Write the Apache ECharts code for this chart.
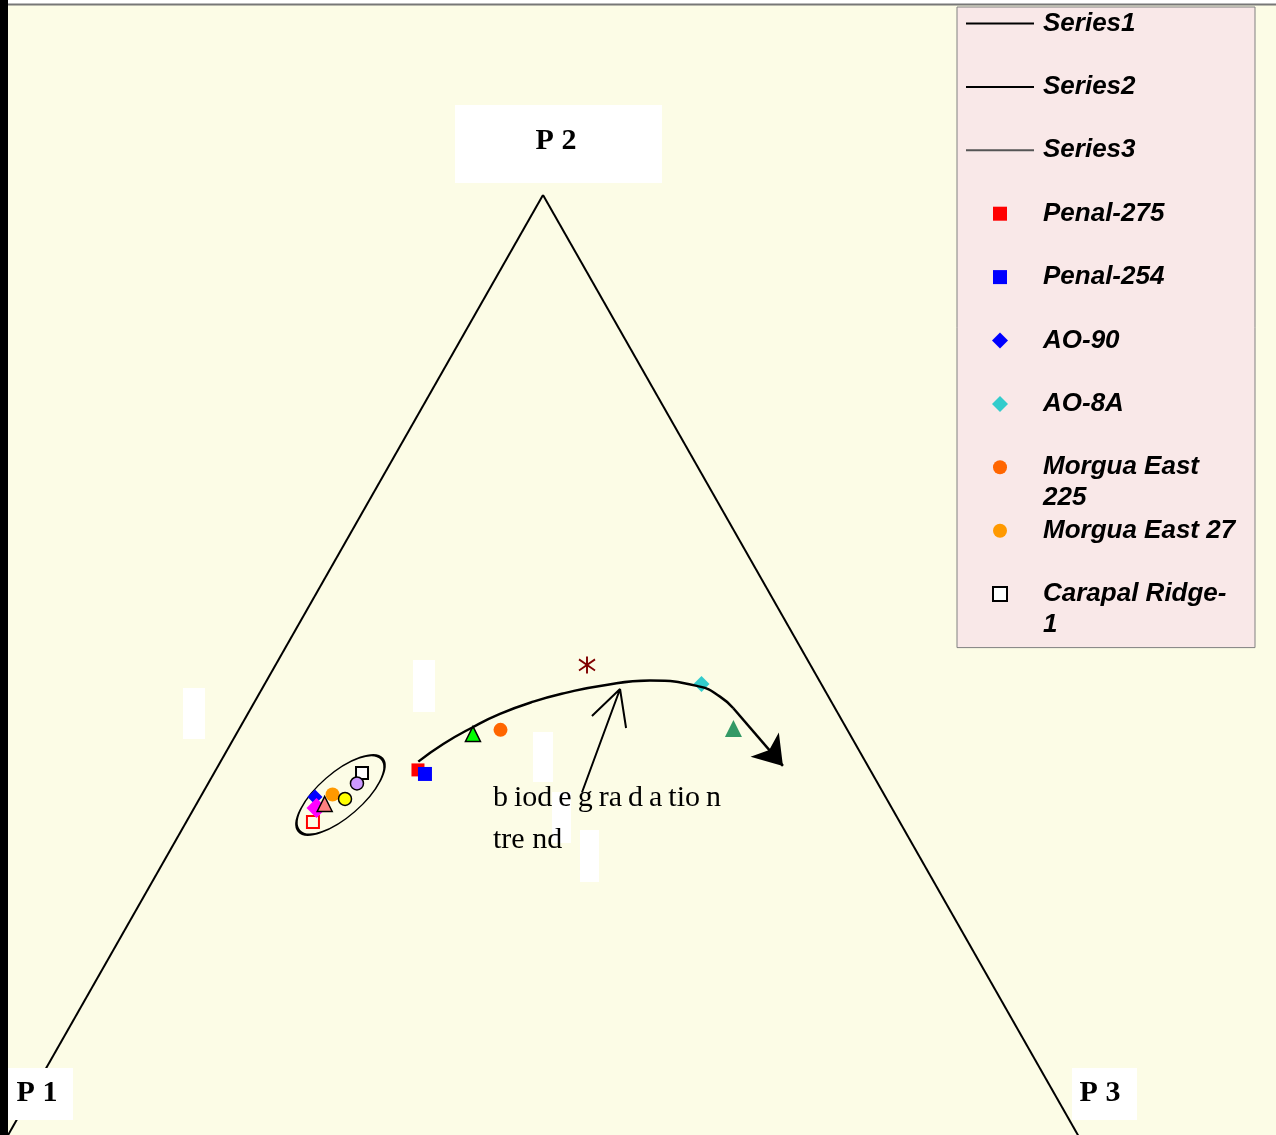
<!DOCTYPE html>
<html>
<head>
<meta charset="utf-8">
<script src="https://cdn.jsdelivr.net/npm/echarts@6/dist/echarts.min.js"></script>
<style>
  html, body { margin: 0; padding: 0; }
  #main { width: 1276px; height: 1135px; }
</style>
</head>
<body>
<div id="main"></div>
<script>
// 三角图的数据 (x: 底边百分比, y: 高度)
var side1 = [[0, 0], [50, 86.6]];
var side2 = [[50, 86.6], [100, 0]];
var side3 = [[0, 0], [100, 0]];

var penal275 = [[38.38, 33.94]];
var penal254 = [[39.03, 33.57]];
var ao90 = [[28.81, 31.46]];
var ao8a = [[64.73, 41.82]];
var morguaEast225 = [[46.05, 37.61]];
var morguaEast27 = [[30.44, 31.69]];
var carapalRidge1 = [[33.18, 33.66]];

// 图例里没有显示的样品
var openRedSquare = [[28.62, 29.17]];
var magentaDiamond = [[28.95, 30.46]];
var pinkTriangle = [[29.71, 30.82]];
var yellowCircle = [[31.60, 31.28]];
var lilacCircle = [[32.71, 32.70]];
var greenTriangle = [[43.49, 37.24]];
var redStar = [[54.09, 43.56]];
var seaGreenTriangle = [[67.70, 37.74]];

// 包围圈和趋势线
var clusterCenter = [[31.18, 31.65]];
var trendCurve = [[38.41, 34.70], [40.73, 36.32], [43.47, 37.85], [46.00, 39.07], [49.10, 40.19],
                  [52.20, 41.02], [55.30, 41.63], [59.94, 42.12], [64.59, 41.57],
                  [66.45, 40.65], [67.69, 39.59]];
var trendArrow = [[67.69, 39.59], [72.30, 34.31]];
var bioArrow = [[53.62, 31.87], [57.16, 41.35], [54.55, 38.88], '-', [57.16, 41.35], [57.72, 37.78]];

var legendNames = ['Series1', 'Series2', 'Series3', 'Penal-275', 'Penal-254', 'AO-90', 'AO-8A',
                   'Morgua East 225', 'Morgua East 27', 'Carapal Ridge-1'];

var starPath = 'path://M9,0h2v20h-2z M1.2,4.4 L2.2,2.6 L18.8,15.6 L17.8,17.4z M17.8,2.6 L18.8,4.4 L2.2,17.4 L1.2,15.6z';
// 图例图标: 在 68x16 的框中间画小方块/菱形/圆
var legendSquare = 'path://M0,0 M68,16 M27,1 h14 v14 h-14 z';
var legendDiamond = 'path://M0,0 M68,16 M34,0 L42,8 L34,16 L26,8 z';
var legendCircle = 'path://M0,0 M68,16 M27,8 a7,7 0 1,0 14,0 a7,7 0 1,0 -14,0 z';

var myChart = echarts.init(document.getElementById('main'));

function side(name, data, width, color) {
    return {
        name: name, type: 'line', data: data, symbol: 'none', silent: true,
        lineStyle: { color: color, width: width }, itemStyle: { color: color }
    };
}

function dot(name, data, symbol, size, color, border) {
    var style = { color: color, opacity: 1 };
    if (border) {
        style.borderColor = border;
        style.borderWidth = 1.5;
    }
    return {
        name: name, type: 'scatter', data: data, symbol: symbol, symbolSize: size,
        silent: true, itemStyle: style
    };
}

var labelFont = { fontFamily: 'Liberation Serif', fontWeight: 'bold', fontSize: 30, fill: '#000',
                  textAlign: 'center', textVerticalAlign: 'middle' };
var legendFont = { fontFamily: 'Liberation Sans', fontWeight: 'bold', fontStyle: 'italic', fontSize: 26, fill: '#000',
                   textVerticalAlign: 'middle' };

var legendIcons = {
    'Penal-275': legendSquare, 'Penal-254': legendSquare, 'Carapal Ridge-1': legendSquare,
    'AO-90': legendDiamond, 'AO-8A': legendDiamond,
    'Morgua East 225': legendCircle, 'Morgua East 27': legendCircle
};
var legendData = legendNames.map(function (n, i) {
    if (i < 3) return { name: n, itemStyle: { opacity: 0 } };  // 线条图例不要圆点
    return { name: n, icon: legendIcons[n] };
});

var option = {
    backgroundColor: '#fcfce6',
    animation: false,
    grid: { left: 5, right: 195, top: 195, bottom: 0 },
    xAxis: { type: 'value', min: 0, max: 100, show: false },
    yAxis: { type: 'value', min: 0.5, max: 86.6, show: false },
    legend: {
        data: legendData,
        orient: 'vertical',
        left: 957,
        top: 7,
        padding: [2.5, 8, 39.5, 8],
        itemWidth: 68,
        itemHeight: 16,
        itemGap: 35.4,
        selectedMode: false,
        backgroundColor: '#f9e8e8',
        borderColor: '#808080',
        borderWidth: 1,
        formatter: function (name) {
            if (name === 'Morgua East 225') return 'Morgua East';
            if (name === 'Carapal Ridge-1') return 'Carapal Ridge-';
            return name;
        },
        textStyle: {
            fontFamily: 'Liberation Sans', fontWeight: 'bold', fontStyle: 'italic',
            fontSize: 26, color: '#000', width: 204, height: 28, lineHeight: 31, padding: [0, 0, 0, 4]
        }
    },
    graphic: [
        { type: 'rect', shape: { x: 0, y: 0, width: 1276, height: 4 }, style: { fill: '#fff' }, z: 100 },
        { type: 'line', shape: { x1: 8, y1: 4.5, x2: 1276, y2: 4.5 }, style: { stroke: '#777', lineWidth: 2 }, z: 100 },
        { type: 'rect', shape: { x: 0, y: 0, width: 8, height: 1135 }, style: { fill: '#000' }, z: 100 },
        // 图例第二行
        { type: 'text', x: 1043, y: 498, style: Object.assign({ text: '225' }, legendFont), z: 100 },
        { type: 'text', x: 1043, y: 625, style: Object.assign({ text: '1' }, legendFont), z: 100 },
        // 白色小块
        { type: 'rect', shape: { x: 183, y: 688, width: 22, height: 51 }, style: { fill: '#fff' }, z: 1 },
        { type: 'rect', shape: { x: 413, y: 660, width: 22, height: 52 }, style: { fill: '#fff' }, z: 1 },
        { type: 'rect', shape: { x: 533, y: 732, width: 20, height: 50 }, style: { fill: '#fff' }, z: 1 },
        { type: 'rect', shape: { x: 552, y: 792, width: 19, height: 51 }, style: { fill: '#fff' }, z: 1 },
        { type: 'rect', shape: { x: 580, y: 830, width: 19, height: 52 }, style: { fill: '#fff' }, z: 1 },
        // 顶点标签
        { type: 'rect', shape: { x: 455, y: 105, width: 207, height: 78 }, style: { fill: '#fff' }, z: 50 },
        { type: 'text', x: 556, y: 141, style: Object.assign({ text: 'P 2' }, labelFont), z: 51 },
        { type: 'rect', shape: { x: 7, y: 1068, width: 66, height: 52 }, style: { fill: '#fff' }, z: 50 },
        { type: 'text', x: 37, y: 1093, style: Object.assign({ text: 'P 1' }, labelFont), z: 51 },
        { type: 'rect', shape: { x: 1072, y: 1068, width: 65, height: 52 }, style: { fill: '#fff' }, z: 50 },
        { type: 'text', x: 1100, y: 1093, style: Object.assign({ text: 'P 3' }, labelFont), z: 51 },
        // 趋势说明
        { type: 'text', x: 493, y: 798, z: 51,
          style: { text: 'b\u2009iod\u2009e\u2009g\u2009ra\u2009d\u2009a\u2009tio\u2009n', fontFamily: 'Liberation Serif', fontSize: 30, fill: '#000', textVerticalAlign: 'middle' } },
        { type: 'text', x: 493, y: 840, z: 51,
          style: { text: 'tre nd', fontFamily: 'Liberation Serif', fontSize: 30, fill: '#000', textVerticalAlign: 'middle' } }
    ],
    series: [
        side('Series1', side1, 2, '#000'),
        side('Series2', side2, 2, '#000'),
        side('Series3', side3, 1, '#555'),
        {
            name: 'cluster', type: 'scatter', data: clusterCenter, symbol: 'circle',
            symbolSize: [110, 44], symbolRotate: 41, silent: true,
            itemStyle: { color: 'rgba(0,0,0,0)', borderColor: '#000', borderWidth: 2, opacity: 1 }
        },
        {
            name: 'trend', type: 'line', data: trendCurve, smooth: 0.5,
            symbol: 'none', silent: true,
            lineStyle: { color: '#000', width: 2.5 },
            markLine: {
                silent: true, animation: false,
                symbol: ['none', 'arrow'], symbolSize: 28,
                label: { show: false },
                lineStyle: { color: '#000', width: 2.5, type: 'solid' },
                data: [[{ coord: trendArrow[0] }, { coord: trendArrow[1] }]]
            }
        },
        {
            name: 'bio', type: 'line', data: bioArrow, symbol: 'none', silent: true,
            lineStyle: { color: '#000', width: 2 }
        },
        {
            name: 'Sample A', type: 'scatter', data: openRedSquare, symbol: 'rect', symbolSize: 12, silent: true,
            itemStyle: { color: '#fcfce6', borderColor: '#ff0000', borderWidth: 2, opacity: 1 }
        },
        dot('AO-90', ao90, 'diamond', 15, '#0000ff'),
        dot('Sample B', magentaDiamond, 'diamond', 20, '#ff00ff'),
        dot('Morgua East 27', morguaEast27, 'circle', 14, '#ff9900'),
        dot('Sample C', pinkTriangle, 'triangle', 15, '#ff8080', '#000'),
        dot('Sample D', yellowCircle, 'circle', 13, '#ffff00', '#000'),
        {
            name: 'Carapal Ridge-1', type: 'scatter', data: carapalRidge1, symbol: 'rect', symbolSize: 12,
            silent: true,
            itemStyle: { color: '#ffffff', borderColor: '#000', borderWidth: 2, opacity: 1 }
        },
        dot('Sample E', lilacCircle, 'circle', 13, '#cc99ff', '#000'),
        dot('Penal-275', penal275, 'rect', 13, '#ff0000'),
        dot('Penal-254', penal254, 'rect', 14, '#0000ff'),
        dot('Sample F', greenTriangle, 'triangle', 15, '#00ff00', '#000'),
        dot('Morgua East 225', morguaEast225, 'circle', 14, '#ff6600'),
        dot('Sample G', redStar, starPath, [17, 17], '#800000'),
        dot('AO-8A', ao8a, 'diamond', 16, '#33cccc'),
        dot('Sample H', seaGreenTriangle, 'triangle', 17, '#339966')
    ]
};

myChart.setOption(option);
window.onresize = function () {
    myChart.resize();
};
</script>
</body>
</html>
